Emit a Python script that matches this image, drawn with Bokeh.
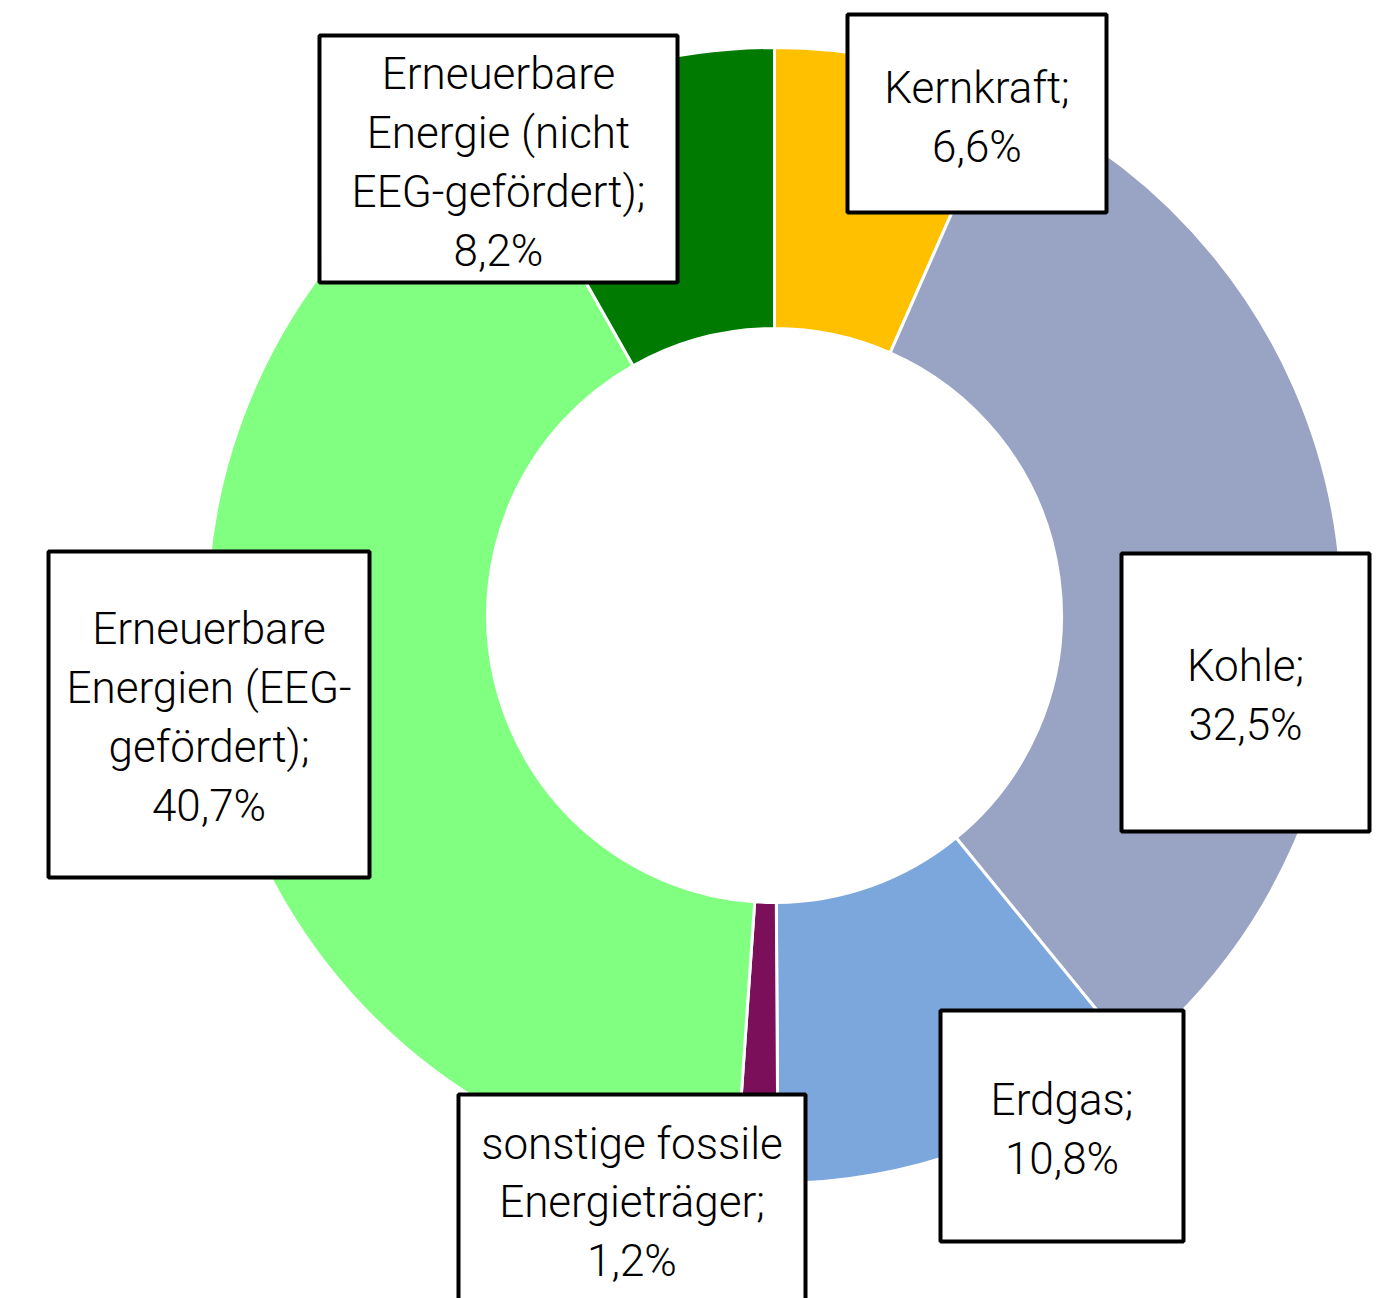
import numpy as np
from bokeh.plotting import figure
from bokeh.models import Range1d, ColumnDataSource
from bokeh.core.properties import value
from bokeh.embed import file_html
from bokeh.resources import INLINE

categories = ["Kernkraft", "Kohle", "Erdgas", "sonstige fossile\nEnergieträger",
              "Erneuerbare\nEnergien (EEG-\ngefördert)", "Erneuerbare\nEnergie (nicht\nEEG-gefördert)"]
shares = [6.6, 32.5, 10.8, 1.2, 40.7, 8.2]
colors = ["#FFC000", "#99A4C4", "#7BA7DC", "#7B0F5A", "#80FF80", "#007A00"]
label_texts = [c + ";\n" + ("%.1f" % s).replace(".", ",") + "%" for c, s in zip(categories, shares)]

W, H = 1383, 1298
cx, cy = 774, H - 615
r_out, r_in = 568, 287

p = figure(width=W, height=H, x_range=Range1d(0, W), y_range=Range1d(0, H),
           output_backend="svg", toolbar_location=None, min_border=0)
p.axis.visible = False
p.grid.visible = False
p.outline_line_color = None

total = sum(shares)
cum = np.concatenate([[0], np.cumsum(shares)]) / total
start = np.pi / 2 - 2 * np.pi * cum[:-1]
end = np.pi / 2 - 2 * np.pi * cum[1:]
src = ColumnDataSource(dict(start=start, end=end, color=colors))
p.annular_wedge(x=cx, y=cy, inner_radius=r_in, outer_radius=r_out, start_angle="start",
                end_angle="end", direction="clock", fill_color="color",
                line_color="white", line_width=3, source=src)

# label boxes (pixel layout: center x, center y (top-down), width, height, text center y)
boxes = [
    (976.5, 113, 259, 198, 117),
    (1245, 692, 248, 278, 695),
    (1061.5, 1125.5, 243, 231, 1129),
    (631.5, 1210, 347, 232, 1202),
    (208.5, 714, 321, 326, 717),
    (498, 158.5, 358, 247, 162),
]
bx = [b[0] for b in boxes]
by = [H - b[1] for b in boxes]
bw = [b[2] for b in boxes]
bh = [b[3] for b in boxes]
ty = [H - b[4] for b in boxes]
p.rect(x=bx, y=by, width=bw, height=bh, fill_color="white", line_color="black", line_width=4)
p.text(x=bx, y=ty, text=label_texts, text_align="center", text_baseline="middle",
       text_font=value("Roboto Light"), text_font_size="44px", text_line_height=1.13,
       text_color="black")

open("out.html", "w").write(file_html(p, INLINE))
